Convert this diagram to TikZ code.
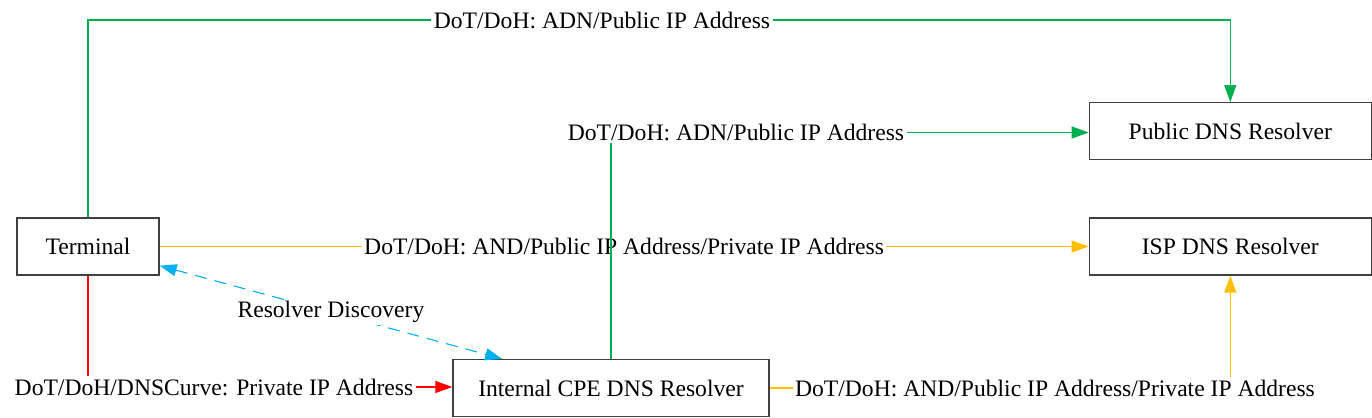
\documentclass[tikz,border=0pt]{standalone}
\usepackage{fontspec}
\setmainfont{Liberation Serif}
\usetikzlibrary{arrows.meta, positioning}

\definecolor{pubgreen}{RGB}{0,176,80}
\definecolor{ispyellow}{RGB}{255,192,0}
\definecolor{discblue}{RGB}{0,176,240}
\definecolor{privred}{RGB}{255,0,0}

\begin{document}
\begin{tikzpicture}[
    x=0.5pt, y=-0.5pt,
    box/.style={rectangle, draw=black!75, line width=0.65pt, minimum height=28.5pt, inner sep=2pt, font=\fontsize{11.8}{14}\selectfont},
    lbl/.style={fill=white, text=black, inner sep=1pt, font=\fontsize{11.8}{14}\selectfont},
    arrow/.style={-{Triangle[length=8.5pt, width=6pt]}, line width=0.55pt},
    wire/.style={line width=0.55pt},
]
\useasboundingbox (0,0) rectangle (1372,418);

% Hosts and resolvers
\node[box, minimum width=71pt] (term) at (88,246.5) {Terminal};
\node[box, minimum width=141pt, right=464.5pt of term] (isp) {ISP DNS Resolver};
\node[box, minimum width=141pt, above=28.5pt of isp] (pub) {Public DNS Resolver};
\node[box, minimum width=158pt] (cpe) at (611,388) {Internal CPE DNS Resolver};

% Labels sitting on bent connectors
\node[lbl] (lblTop) at (602,20) {DoT/DoH: ADN/Public IP Address};
\node[lbl] (lblMid) at (736,132.5) {DoT/DoH: ADN/Public IP Address};
\node[lbl] (lblRed) at (214,387) {DoT/DoH/DNSCurve: Private IP Address};
\node[lbl] (lblCpe) at (1055,388) {DoT/DoH: AND/Public IP Address/Private IP Address};

% Terminal -> ISP resolver
\draw[arrow, ispyellow] (term) -- node[lbl] (lblIsp) {DoT/DoH: AND/Public IP Address/Private IP Address} (isp);

% Terminal -> public resolver (over the top)
\draw[wire, pubgreen] (term.north) |- (lblTop.west);
\draw[arrow, pubgreen] (lblTop.east) -| (pub.north);

% CPE -> public resolver
\draw[wire, pubgreen] (cpe.north) -- (cpe.north |- lblMid.south);
\draw[arrow, pubgreen] (lblMid.east) -- (lblMid.east -| pub.west);

% Terminal -> CPE
\draw[wire, privred] (term.south) -- (term.south |- lblRed.north);
\draw[arrow, privred] (lblRed.east) -- (lblRed.east -| cpe.west);

% CPE -> ISP resolver
\draw[wire, ispyellow] (cpe.east) -- (lblCpe.west);
\draw[arrow, ispyellow] (lblCpe.north -| isp.south) -- (isp.south);

% Discovery
\draw[wire, discblue, dashed, dash pattern=on 6pt off 4pt, {Triangle[length=8.5pt, width=6pt]}-{Triangle[length=8.5pt, width=6pt]}]
    (term.-15) -- node[lbl] (lblDisc) {Resolver Discovery} (cpe.165);

\end{tikzpicture}
\end{document}
